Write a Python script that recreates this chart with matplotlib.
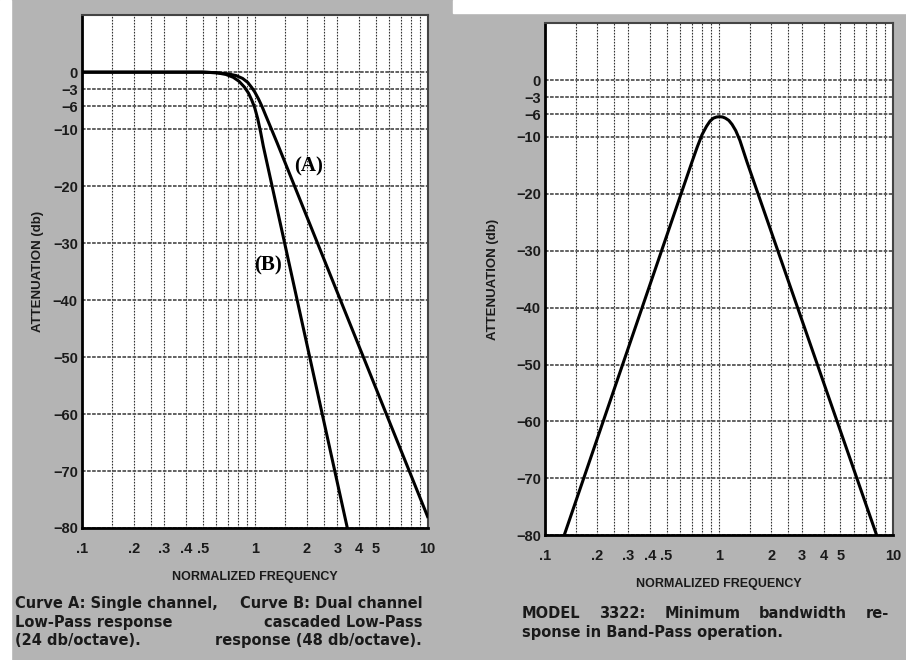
import numpy as np
import matplotlib.pyplot as plt
from matplotlib.patches import Rectangle
from matplotlib.ticker import FixedLocator, NullFormatter

# --- data ---
# curve A: single channel low-pass (24 db/octave)
lp_freq_a = [0.1, 0.3, 0.5, 0.6, 0.7, 0.78, 0.85, 0.91, 0.96, 1.0, 1.05, 1.1,
             1.16, 1.24, 1.35, 10.0]
lp_db_a = [0, 0, 0, -0.1, -0.3, -0.6, -1.1, -1.8, -2.7, -3.5, -4.7, -6.0,
           -7.7, -9.8, -12.5, -78]

# curve B: dual channel cascaded low-pass (48 db/octave)
lp_freq_b = [0.1, 0.3, 0.5, 0.6, 0.68, 0.75, 0.81, 0.87, 0.92, 0.96, 1.0, 1.04,
             1.08, 1.12, 3.43]
lp_db_b = [0, 0, 0, -0.1, -0.4, -0.9, -1.6, -2.6, -3.7, -4.9, -6.3, -8.2,
           -10.5, -13.0, -80]

# model 3322 band-pass response
bp_freq = [0.129, 0.70, 0.75, 0.80, 0.85, 0.89, 0.93, 0.97, 1.01, 1.05, 1.09,
           1.14, 1.19, 1.25, 1.32, 1.45, 8.07]
bp_db = [-80, -14.4, -11.8, -9.6, -8.1, -7.2, -6.7, -6.5, -6.45, -6.5, -6.7,
         -7.1, -7.8, -8.9, -10.6, -14.4, -80]

y_ticks = [0, -3, -6, -10, -20, -30, -40, -50, -60, -70, -80]
y_labels = ["0", "\u22123", "\u22126", "\u221210", "\u221220", "\u221230",
            "\u221240", "\u221250", "\u221260", "\u221270", "\u221280"]
x_ticks = [0.1, 0.2, 0.3, 0.4, 0.5, 1, 2, 3, 4, 5, 10]
x_labels = [".1", ".2", ".3", ".4", ".5", "1", "2", "3", "4", "5", "10"]
x_grid = [m * d for d in (0.1, 1) for m in (1, 1.5, 2, 2.5, 3, 4, 5, 6, 7, 8, 9)] + [10]

plt.rcParams['font.family'] = ['Liberation Sans', 'DejaVu Sans']

fig = plt.figure(figsize=(9.06, 6.6), dpi=100)
fig.patch.set_facecolor('#b4b4b4')
# paper margins of the scan
fig.add_artist(Rectangle((0.5, 0.98), 0.5, 0.02, transform=fig.transFigure,
                         color='white', zorder=0))
fig.add_artist(Rectangle((0, 0), 0.012, 1, transform=fig.transFigure,
                         color='white', zorder=0))

ink = '#1a1a1a'


def setup_axes(ax, ypad):
    ax.set_xscale('log')
    ax.set_xlim(0.1, 10)
    ax.set_ylim(-80, 10)
    ax.set_facecolor('white')
    for x in x_grid:
        ax.axvline(x, color='#333333', lw=0.8, ls=(0, (1.5, 1.2)), zorder=1)
    for y in y_ticks:
        ax.axhline(y, color='#555555', lw=1.3, ls=(0, (2, 0.8)), zorder=1)
    ax.xaxis.set_major_locator(FixedLocator(x_ticks))
    ax.xaxis.set_minor_formatter(NullFormatter())
    ax.set_xticks(x_ticks, x_labels, fontweight='bold', color=ink)
    ax.set_yticks(y_ticks, y_labels, fontweight='bold', color=ink)
    ax.tick_params(axis='both', which='both', length=0, labelsize=10.5)
    ax.tick_params(axis='y', pad=3)
    ax.tick_params(axis='x', pad=10)
    for s in ('left', 'bottom'):
        ax.spines[s].set_linewidth(2)
        ax.spines[s].set_color('black')
    for s in ('top', 'right'):
        ax.spines[s].set_linewidth(1.5)
        ax.spines[s].set_color('#444444')
    ax.set_xlabel("NORMALIZED FREQUENCY", fontsize=9, fontweight='bold',
                  color=ink, labelpad=11)
    ax.set_ylabel("ATTENUATION (db)", fontsize=9.5, fontweight='bold',
                  color=ink, labelpad=ypad)


# left: low-pass curves
ax1 = fig.add_axes([0.0905, 0.2, 0.3815, 0.777])
setup_axes(ax1, 6)
ax1.plot(lp_freq_a, lp_db_a, color='black', lw=2.2, zorder=3)
ax1.plot(lp_freq_b, lp_db_b, color='black', lw=2.2, zorder=3)
ax1.text(1.68, -16.5, "(A)", family='Liberation Serif', fontsize=15,
         fontweight='bold', ha='left', va='center', zorder=4)
ax1.text(0.99, -34, "(B)", family='Liberation Serif', fontsize=15,
         fontweight='bold', ha='left', va='center', zorder=4)

# right: band-pass curve
ax2 = fig.add_axes([0.6015, 0.189, 0.384, 0.776])
setup_axes(ax2, 12)
ax2.plot(bp_freq, bp_db, color='black', lw=2.2, zorder=3)

# captions
cap = dict(family='DejaVu Sans', fontsize=10.5, fontweight='bold', color=ink,
           linespacing=1.3)
fig.text(0.017, 0.057, "Curve A: Single channel,\nLow-Pass response\n(24 db/octave).",
         ha='left', va='center', **cap)
fig.text(0.466, 0.057, "Curve B: Dual channel\ncascaded Low-Pass\nresponse (48 db/octave).",
         ha='right', va='center', multialignment='right', **cap)

# right caption: first line justified between the two edges, like the print
line1 = ["MODEL", "3322:", "Minimum", "bandwidth", "re-"]
x0, x1 = 522 / 906, 889 / 906
y1, y2 = 1 - 614 / 660, 1 - 632 / 660
words = [fig.text(x0, y1, w, ha='left', va='center', **cap) for w in line1]
fig.canvas.draw()
r = fig.canvas.get_renderer()
widths = [t.get_window_extent(r).width / fig.bbox.width for t in words]
gap = (x1 - x0 - sum(widths)) / (len(words) - 1)
xpos = x0
for t, w in zip(words, widths):
    t.set_x(xpos)
    xpos += w + gap
fig.text(x0, y2, "sponse in Band-Pass operation.", ha='left', va='center', **cap)

fig.savefig("out.png", dpi=100, facecolor=fig.get_facecolor())
